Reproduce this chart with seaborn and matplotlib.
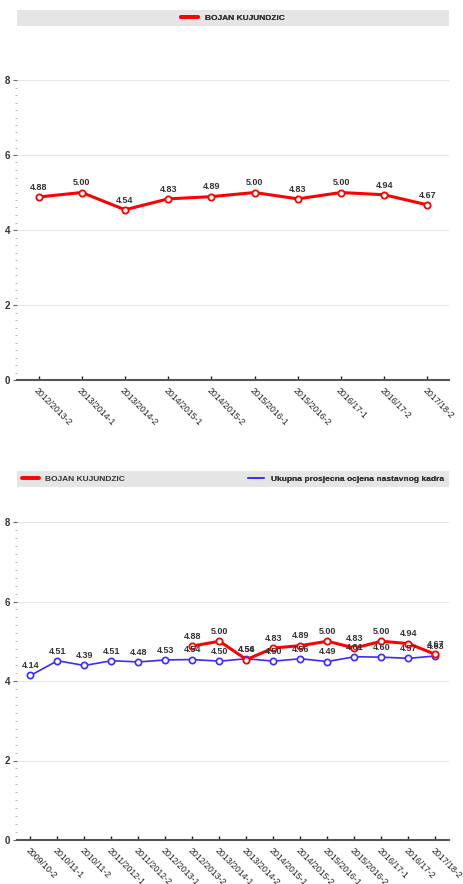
# Teacher rating charts: one teacher vs. overall staff average
import pandas as pd
import matplotlib.pyplot as plt
import seaborn as sns
from matplotlib.lines import Line2D

# Data
teacher_name = "BOJAN KUJUNDZIC"
staff_name = "Ukupna prosjecna ocjena nastavnog kadra"

teacher_terms = ["2012/2013-2", "2013/2014-1", "2013/2014-2", "2014/2015-1", "2014/2015-2",
                 "2015/2016-1", "2015/2016-2", "2016/17-1", "2016/17-2", "2017/18-2"]
teacher_scores = [4.88, 5.00, 4.54, 4.83, 4.89, 5.00, 4.83, 5.00, 4.94, 4.67]

staff_terms = ["2009/10-2", "2010/11-1", "2010/11-2", "2011/2012-1", "2011/2012-2",
               "2012/2013-1", "2012/2013-2", "2013/2014-1", "2013/2014-2", "2014/2015-1",
               "2014/2015-2", "2015/2016-1", "2015/2016-2", "2016/17-1", "2016/17-2",
               "2017/18-2"]
staff_scores = [4.14, 4.51, 4.39, 4.51, 4.48, 4.53, 4.54, 4.50, 4.56, 4.50,
                4.56, 4.49, 4.61, 4.60, 4.57, 4.63]

RED = "#ff0000"
BLUE = "#3a2bff"
TXT = "#333333"

sns.set_theme(style="white")
plt.rcParams["font.family"] = ["Liberation Sans", "DejaVu Sans"]


def style_axes(ax, terms):
    ax.set_ylim(0, 8)
    ax.set_xlim(-0.5, len(terms) - 0.5)
    ax.set_yticks([0, 2, 4, 6, 8])
    ax.set_yticks([i * 0.2 for i in range(41)], minor=True)
    ax.set_xticks(range(len(terms)))
    ax.set_xticklabels(terms, rotation=-45, ha="left", va="top",
                       rotation_mode="anchor", fontsize=6.3, color="#222222")
    for lab in ax.get_yticklabels():
        lab.set_fontweight("bold")
    ax.tick_params(axis="y", which="major", length=3, width=0.8, color="#666666",
                   labelsize=7, labelcolor=TXT, pad=2, left=True)
    ax.tick_params(axis="y", which="minor", length=1.2, width=0.6, color="#aaaaaa", left=True)
    ax.tick_params(axis="x", which="major", direction="in", length=3, width=1,
                   color="#222222", pad=4, bottom=True)
    ax.grid(axis="y", which="major", color="#e6e6e6", linewidth=0.8)
    for side in ["top", "right", "left"]:
        ax.spines[side].set_visible(False)
    ax.spines["bottom"].set_color("#555555")
    ax.spines["bottom"].set_linewidth(1.5)
    ax.set_xlabel("")
    ax.set_ylabel("")


def label_points(ax, xs, ys):
    for x, y in zip(xs, ys):
        ax.annotate(f"{y:.2f}", (x, y), xytext=(0, 7), textcoords="offset points",
                    ha="center", va="center", fontsize=6.5, fontweight="bold", color=TXT)


def legend_box(fig, rect, handles, labels, locs):
    lax = fig.add_axes(rect)
    lax.set_facecolor("#e5e5e5")
    lax.set_xticks([])
    lax.set_yticks([])
    for s in lax.spines.values():
        s.set_visible(False)
    for h, l, loc in zip(handles, labels, locs):
        leg = lax.legend([h], [l], loc=loc, frameon=False, handlelength=2.0,
                         borderaxespad=0.2, prop={"size": 6, "weight": "bold"})
        for t in leg.get_texts():
            t.set_color(TXT)
        lax.add_artist(leg)


fig = plt.figure(figsize=(4.64, 8.84), dpi=100)

# Top chart: teacher only
top = pd.DataFrame({"term": teacher_terms, "score": teacher_scores})
top["pos"] = range(len(top))
ax1 = fig.add_axes([17 / 464, (884 - 380) / 884, 432 / 464, 300 / 884])
sns.lineplot(data=top, x="pos", y="score", ax=ax1, color=RED, linewidth=2.2,
             marker="o", markersize=4.5, markerfacecolor="white",
             markeredgecolor=RED, markeredgewidth=1.3)
style_axes(ax1, teacher_terms)
label_points(ax1, top["pos"], top["score"])

red_h = Line2D([], [], color=RED, linewidth=2.8)
blue_h = Line2D([], [], color=BLUE, linewidth=1.2)
legend_box(fig, [17 / 464, 1 - 25.5 / 884, 432 / 464, 15.5 / 884],
           [red_h], [teacher_name], ["center"])

# Bottom chart: teacher vs staff average
staff = pd.DataFrame({"term": staff_terms, "score": staff_scores})
staff["pos"] = range(len(staff))
teach = pd.DataFrame({"term": teacher_terms, "score": teacher_scores})
teach["pos"] = teach["term"].map({t: i for i, t in enumerate(staff_terms)})

ax2 = fig.add_axes([17 / 464, (884 - 840) / 884, 432 / 464, 318 / 884])
sns.lineplot(data=staff, x="pos", y="score", ax=ax2, color=BLUE, linewidth=1.2,
             marker="o", markersize=4.5, markerfacecolor="white",
             markeredgecolor=BLUE, markeredgewidth=1.2)
sns.lineplot(data=teach, x="pos", y="score", ax=ax2, color=RED, linewidth=2.2,
             marker="o", markersize=4.5, markerfacecolor="white",
             markeredgecolor=RED, markeredgewidth=1.3)
style_axes(ax2, staff_terms)
label_points(ax2, staff["pos"], staff["score"])
label_points(ax2, teach["pos"], teach["score"])

legend_box(fig, [17 / 464, 1 - 487 / 884, 432 / 464, 16 / 884],
           [red_h, blue_h], [teacher_name, staff_name], ["center left", "center right"])

fig.savefig("out.png", dpi=100)
